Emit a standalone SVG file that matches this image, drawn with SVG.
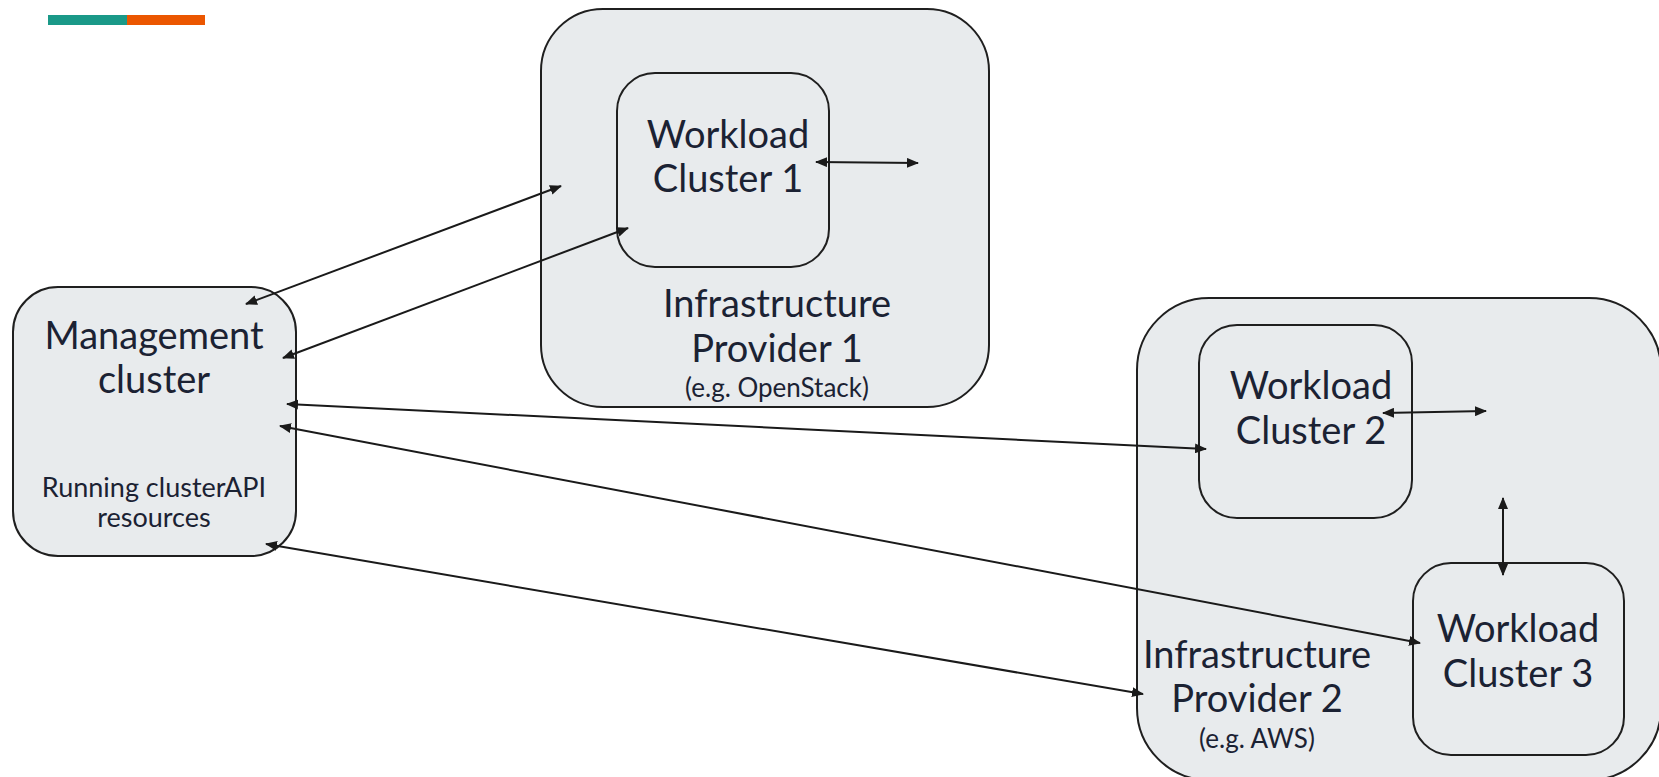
<svg xmlns="http://www.w3.org/2000/svg" width="1659" height="777" viewBox="0 0 1659 777">
<defs>
<style>
.box{fill:#e8ebed;stroke:#1f1f1f;stroke-width:2}
.t{font-family:Lato,"Open Sans","Liberation Sans",sans-serif;fill:#1b2233;text-anchor:middle}
.big{font-size:38px}
.mid{font-size:27px}
.sm{font-size:26px}
.c{stroke:#1a1a1a;stroke-width:2;fill:none;marker-start:url(#ah);marker-end:url(#ah)}
</style>
<marker id="ah" viewBox="0 0 12 10" refX="11" refY="5" markerWidth="12" markerHeight="10" markerUnits="userSpaceOnUse" orient="auto-start-reverse">
<path d="M0,0 L12,5 L0,10 z" fill="#1a1a1a"/>
</marker>
</defs>
<rect x="48" y="15" width="79" height="10" fill="#1a9988"/>
<rect x="127" y="15" width="78" height="10" fill="#eb5600"/>

<g id="provider1">
<rect class="box" x="541" y="9" width="448" height="398" rx="62"/>
<text class="t big" x="777" y="317">Infrastructure</text>
<text class="t big" x="777" y="362">Provider 1</text>
<text class="t sm" x="777" y="397">(e.g. OpenStack)</text>
</g>
<g id="provider2">
<rect class="box" x="1137" y="298" width="524" height="482" rx="72"/>
<text class="t big" x="1257" y="668">Infrastructure</text>
<text class="t big" x="1257" y="712">Provider 2</text>
<text class="t sm" x="1257" y="748">(e.g. AWS)</text>
</g>
<g id="management">
<rect class="box" x="13" y="287" width="283" height="269" rx="45"/>
<text class="t big" x="154" y="349">Management</text>
<text class="t big" x="154" y="393">cluster</text>
<text class="t mid" x="154" y="497">Running clusterAPI</text>
<text class="t mid" x="154" y="527">resources</text>
</g>
<g id="workload1">
<rect class="box" x="617" y="73" width="212" height="194" rx="38"/>
<text class="t big" x="728" y="148">Workload</text>
<text class="t big" x="728" y="192">Cluster 1</text>
</g>
<g id="workload2">
<rect class="box" x="1199" y="325" width="213" height="193" rx="38"/>
<text class="t big" x="1311" y="399">Workload</text>
<text class="t big" x="1311" y="444">Cluster 2</text>
</g>
<g id="workload3">
<rect class="box" x="1413" y="563" width="211" height="192" rx="38"/>
<text class="t big" x="1518" y="642">Workload</text>
<text class="t big" x="1518" y="687">Cluster 3</text>
</g>
<g id="connectors">
<line class="c" x1="246" y1="304" x2="561" y2="186"/>
<line class="c" x1="283" y1="358" x2="628" y2="228"/>
<line class="c" x1="287" y1="404" x2="1206" y2="449"/>
<line class="c" x1="280" y1="426" x2="1420" y2="643"/>
<line class="c" x1="266" y1="544" x2="1143" y2="694"/>
<line class="c" x1="816" y1="162" x2="918" y2="163"/>
<line class="c" x1="1383" y1="413" x2="1486" y2="411"/>
<line class="c" x1="1503" y1="498" x2="1503" y2="575"/>
</g>
</svg>
